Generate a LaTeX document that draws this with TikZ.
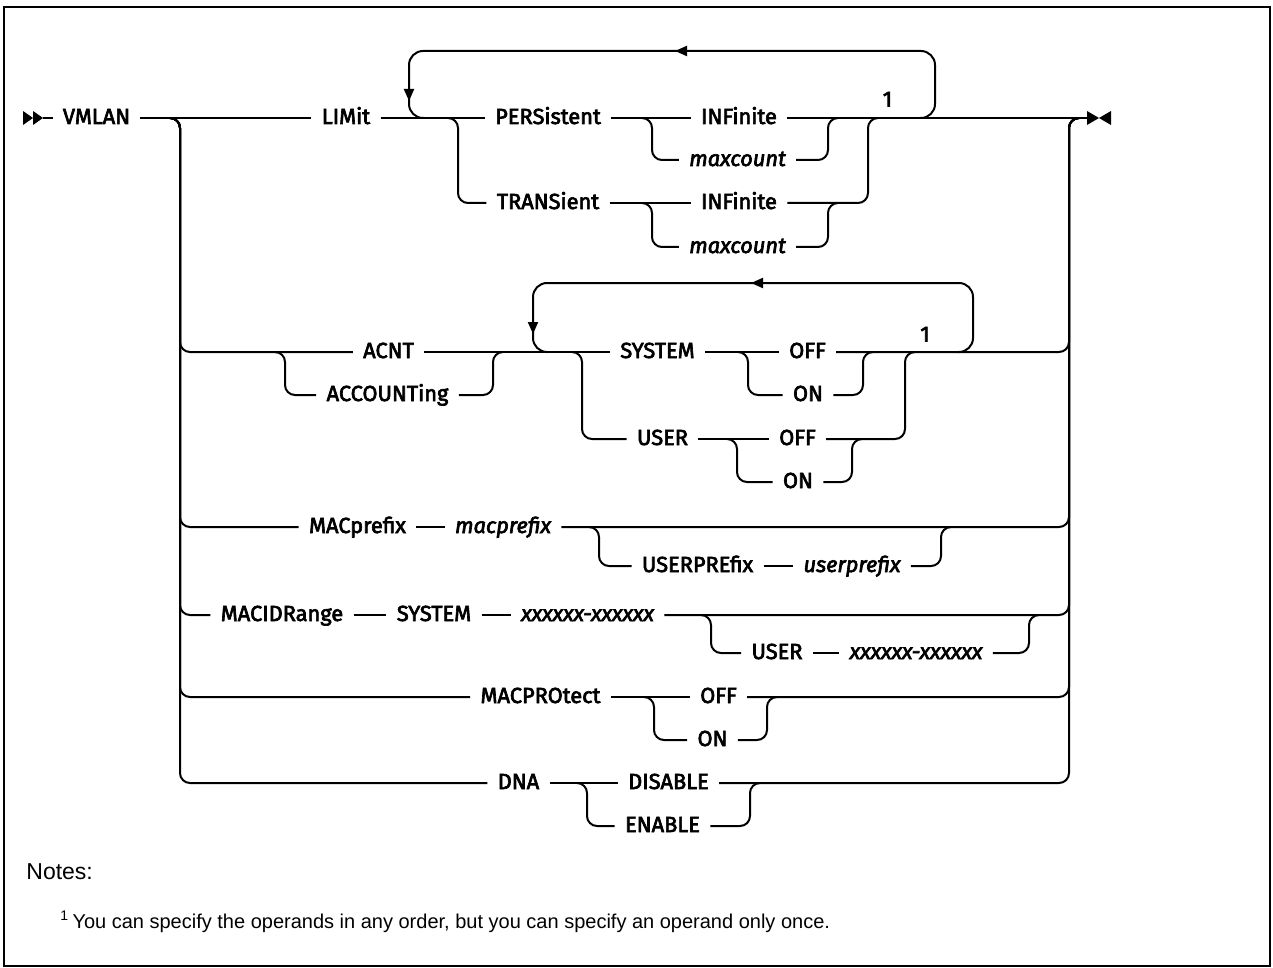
\documentclass[tikz,border=0pt]{standalone}
\usepackage{fontspec}
\setmainfont{Fira Sans}
\newfontfamily\kwfont{Fira Sans}[FakeBold=3]
\newfontfamily\notefont{Liberation Sans}
\usetikzlibrary{arrows.meta}

\tikzset{
  rail/.style={line width=1pt, rounded corners=5pt},
  repeatloop/.style={line width=1pt, rounded corners=7pt},
  kw/.style={font=\kwfont\fontsize{10.9}{12}\selectfont, inner xsep=5pt, inner ysep=0pt, text height=6pt, text depth=0pt},
  var/.style={kw, font=\kwfont\itshape\fontsize{10.9}{12}\selectfont},
  backtip/.style={-{Triangle[length=6pt,width=5pt]}, line width=1pt},
  notetext/.style={font=\notefont\fontsize{10}{12}\selectfont, inner sep=0pt, anchor=base west},
}

\begin{document}
\begin{tikzpicture}[x=0.5pt, y=-0.5pt]
\useasboundingbox (0,0) rectangle (1273,968);
\draw[line width=1.4pt] (4,7) rectangle (1270,966);

% start and stop marks
\fill (23,111) -- (33,118) -- (23,125) -- cycle;
\fill (33,111) -- (43,118) -- (33,125) -- cycle;
\coordinate (start) at (43,118);
\coordinate (stop) at (1088,118);
\fill (1087,111) -- (1099,118) -- (1087,125) -- cycle;
\fill (1111,111) -- (1099,118) -- (1111,125) -- cycle;

% keywords
\node[kw] (vmlan) at (96.5,118) {VMLAN};
\node[kw] (limit) at (346,118) {LIMit};
\node[kw] (pers) at (548,118) {PERSistent};
\node[kw] (pinf) at (739,118) {INFinite};
\node[var] (pmax) at (737.5,160) {maxcount};
\node[kw] (trans) at (548,203) {TRANSient};
\node[kw] (tinf) at (739,203) {INFinite};
\node[var] (tmax) at (737.5,247) {maxcount};
\node[kw] (note1) at (887.5,100.5) {1};

\node[kw] (acnt) at (388.5,352) {ACNT};
\node[kw] (acct) at (387.5,395) {ACCOUNTing};
\node[kw] (system) at (657.5,352) {SYSTEM};
\node[kw] (soff) at (807.5,352) {OFF};
\node[kw] (son) at (808,395) {ON};
\node[kw] (user) at (662.5,439) {USER};
\node[kw] (uoff) at (797.5,439) {OFF};
\node[kw] (uon) at (798,482) {ON};
\node[kw] (note2) at (925,335.5) {1};

\node[kw] (macp) at (357.5,527) {MACprefix};
\node[var] (macpv) at (503,527) {macprefix};
\node[kw] (userpre) at (697.5,566) {USERPREfix};
\node[var] (userprev) at (852,566) {userprefix};

\node[kw] (macid) at (282,615) {MACIDRange};
\node[kw] (idsys) at (434,615) {SYSTEM};
\node[var] (idrange) at (587.5,615) {xxxxxx-xxxxxx};
\node[kw] (iduser) at (777,653) {USER};
\node[var] (iduserv) at (916,653) {xxxxxx-xxxxxx};

\node[kw] (macpro) at (540.5,697) {MACPROtect};
\node[kw] (prooff) at (718.5,697) {OFF};
\node[kw] (proon) at (712.5,740) {ON};

\node[kw] (dna) at (518.5,783) {DNA};
\node[kw] (disable) at (668.5,783) {DISABLE};
\node[kw] (enable) at (662.5,826) {ENABLE};

% main line
\draw[rail] (start) -- (vmlan.west);
\draw[rail] (vmlan.east) -- (limit.west);
\draw[rail] (limit.east) -- (pers.west);
\draw[rail] (pers.east) -- (pinf.west);
\draw[rail] (pinf.east) -- (stop);

% left and right rails of the outer choice
\foreach \row/\first/\last in {352/acnt/soff, 527/macp/macpv, 615/macid/idrange,
                               697/macpro/prooff, 783/dna/disable}{
  \draw[rail] (170,118) -- (180,118) -- (180,\row) -- (\first.west);
  \draw[rail] (\last.east) -- (1069,\row) -- (1069,118) -- (1079,118);
}

% LIMit
\draw[repeatloop] (920,118) -- (935,118) -- (935,51) -- (409,51) -- (409,118) -- (424,118);
\draw[backtip] (690,51) -- (675,51);
\draw[backtip] (409,86) -- (409,101);
\draw[rail] (448,118) -- (458,118) -- (458,203) -- (trans.west);
\draw[rail] (trans.east) -- (tinf.west);
\draw[rail] (tinf.east) -- (868,203) -- (868,118) -- (878,118);
\draw[rail] (642,118) -- (652,118) -- (652,160) -- (pmax.west);
\draw[rail] (pmax.east) -- (828,160) -- (828,118) -- (838,118);
\draw[rail] (642,203) -- (652,203) -- (652,247) -- (tmax.west);
\draw[rail] (tmax.east) -- (828,247) -- (828,203) -- (838,203);

% ACNT / ACCOUNTing
\draw[rail] (acnt.east) -- (system.west);
\draw[rail] (system.east) -- (soff.west);
\draw[rail] (275,352) -- (285,352) -- (285,395) -- (acct.west);
\draw[rail] (acct.east) -- (493,395) -- (493,352) -- (503,352);
\draw[repeatloop] (958,352) -- (973,352) -- (973,283) -- (533,283) -- (533,352) -- (548,352);
\draw[backtip] (766,283) -- (751,283);
\draw[backtip] (533,319) -- (533,334);
\draw[rail] (738,352) -- (748,352) -- (748,395) -- (son.west);
\draw[rail] (son.east) -- (863,395) -- (863,352) -- (873,352);
\draw[rail] (572,352) -- (582,352) -- (582,439) -- (user.west);
\draw[rail] (user.east) -- (uoff.west);
\draw[rail] (uoff.east) -- (905,439) -- (905,352) -- (915,352);
\draw[rail] (727,439) -- (737,439) -- (737,482) -- (uon.west);
\draw[rail] (uon.east) -- (852,482) -- (852,439) -- (862,439);

% MACprefix
\draw[rail] (macp.east) -- (macpv.west);
\draw[rail] (589,527) -- (599,527) -- (599,566) -- (userpre.west);
\draw[rail] (userpre.east) -- (userprev.west);
\draw[rail] (userprev.east) -- (941,566) -- (941,527) -- (951,527);

% MACIDRange
\draw[rail] (macid.east) -- (idsys.west);
\draw[rail] (idsys.east) -- (idrange.west);
\draw[rail] (701,615) -- (711,615) -- (711,653) -- (iduser.west);
\draw[rail] (iduser.east) -- (iduserv.west);
\draw[rail] (iduserv.east) -- (1029,653) -- (1029,615) -- (1039,615);

% MACPROtect
\draw[rail] (macpro.east) -- (prooff.west);
\draw[rail] (644,697) -- (654,697) -- (654,740) -- (proon.west);
\draw[rail] (proon.east) -- (767,740) -- (767,697) -- (777,697);

% DNA
\draw[rail] (dna.east) -- (disable.west);
\draw[rail] (577,783) -- (587,783) -- (587,826) -- (enable.west);
\draw[rail] (enable.east) -- (750,826) -- (750,783) -- (760,783);

% notes
\node[notetext, font=\notefont\fontsize{11.5}{12}\selectfont] (notes) at (26,879) {Notes:};
\node[notetext] (fn) at (60,928) {\textsuperscript{1}\,You can specify the operands in any order, but you can specify an operand only once.};
\end{tikzpicture}
\end{document}
